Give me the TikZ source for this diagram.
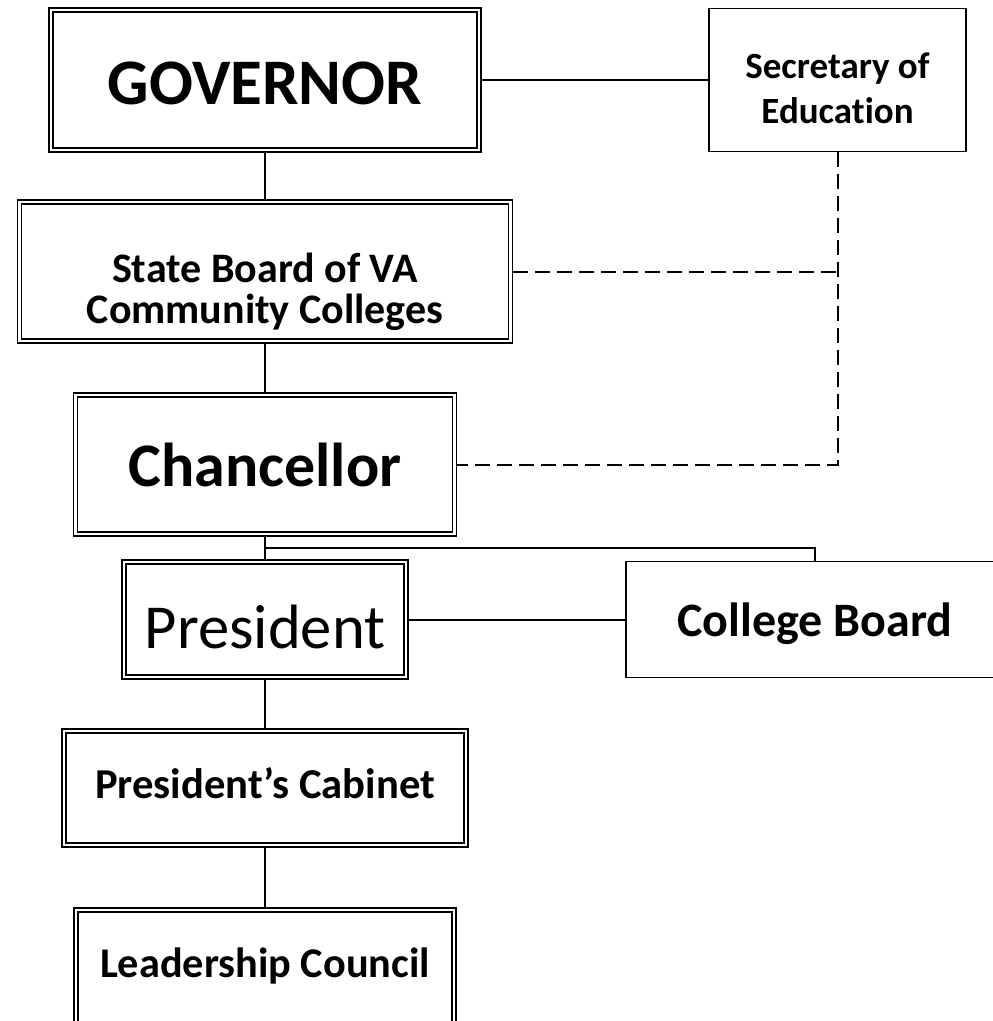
\documentclass[tikz,border=0pt]{standalone}
\usepackage{fontspec}
\setmainfont{Carlito}[Ligatures=NoCommon]
\usetikzlibrary{positioning}

\begin{document}
\begin{tikzpicture}[x=1pt,y=-1pt,on grid,line width=2pt]
 \tikzstyle{dbl}=[draw,double,double distance=2.2pt,line width=1.8pt,outer sep=2.9pt,inner sep=0pt,align=center]
 \tikzstyle{sgl}=[draw,line width=1.8pt,inner sep=0pt,align=center]
 \tikzstyle{dsh}=[dash pattern=on 15pt off 7pt]

\clip (0,0) rectangle (993,1021);

\node[dbl,minimum width=428pt,minimum height=140pt,text height=48pt,text depth=0pt,font=\bfseries\fontsize{65}{78}\selectfont] (gov) at (265,80) {GOVERNOR};
\node[sgl,minimum width=257pt,minimum height=143pt,text height=86pt,text depth=0pt,font=\bfseries\fontsize{37}{44.4}\selectfont] (sec) [right=572.5pt of gov] {Secretary of\\Education};
\node[dbl,minimum width=491pt,minimum height=139pt,text height=103pt,text depth=0pt,font=\bfseries\fontsize{42}{41}\selectfont] (state) [below=191.5pt of gov] {State Board of VA\\Community Colleges};
\node[dbl,minimum width=379pt,minimum height=139pt,text height=43pt,text depth=0pt,font=\bfseries\fontsize{62}{74}\selectfont] (chanc) [below=193pt of state] {Chancellor};
\node[dbl,minimum width=282pt,minimum height=115pt,text height=57pt,text depth=0pt,font=\fontsize{62.6}{75}\selectfont] (pres) [below=155pt of chanc] {President};
\node[sgl,minimum width=378pt,minimum height=116pt,text height=44pt,text depth=11pt,font=\bfseries\fontsize{48}{58}\selectfont] (college) [right=550pt of pres] {College Board};
\node[dbl,minimum width=402pt,minimum height=114pt,text height=30pt,text depth=10pt,font=\bfseries\fontsize{42.6}{51}\selectfont] (cab) [below=168.5pt of pres] {President’s Cabinet};
\node[dbl,minimum width=378pt,minimum height=114pt,text height=30pt,text depth=10pt,font=\bfseries\fontsize{42.3}{51}\selectfont] (lead) [below=179pt of cab] {Leadership Council};

% solid lines
\draw (gov) -- (sec);
\draw (gov) -- (state);
\draw (state) -- (chanc);
\draw (chanc) -- (pres);
\draw (pres) -- (college);
\draw (pres) -- (cab);
\draw (cab) -- (lead);
\path (chanc.south) -- coordinate[pos=0.5] (split) (pres.north);
\draw (split) -| (college.north);

% dashed lines
\draw[dsh] (state.east) -- (state.east -| sec.south);
\draw[dsh] (sec.south) |- (chanc.east);

\end{tikzpicture}
\end{document}
